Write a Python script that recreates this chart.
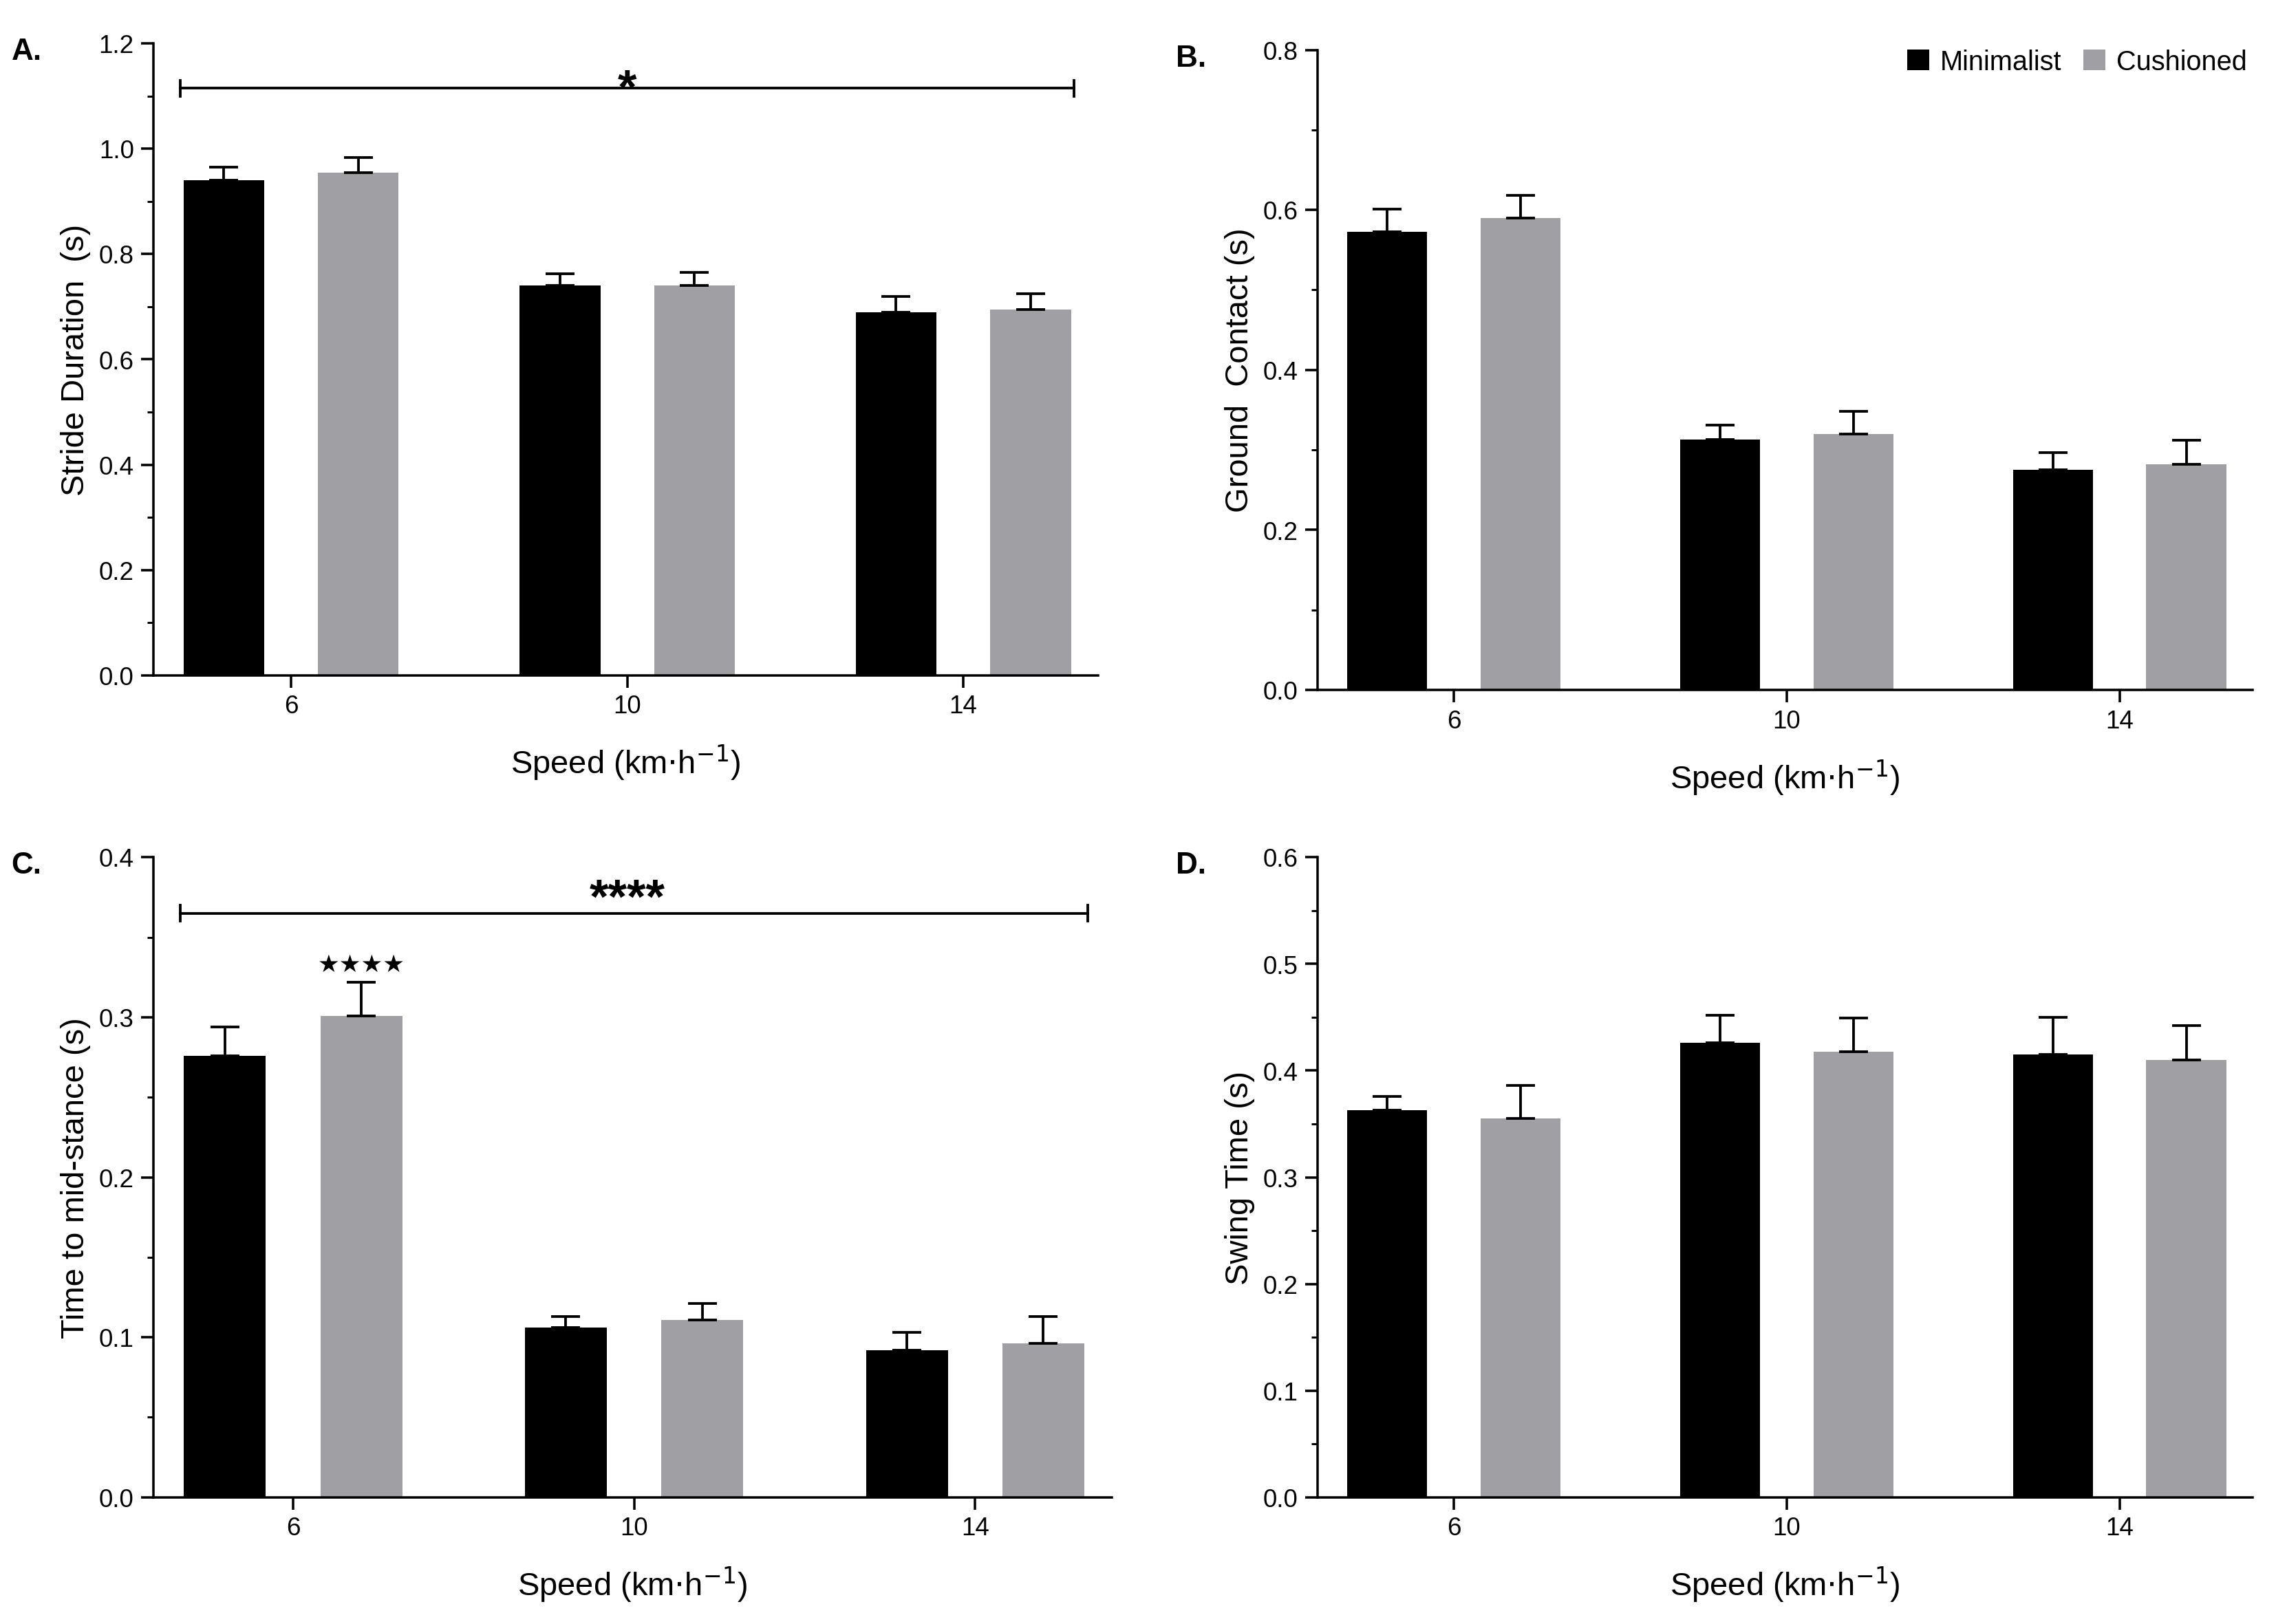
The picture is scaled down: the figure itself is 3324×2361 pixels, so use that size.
import numpy as np, pandas as pd, seaborn as sns, matplotlib
matplotlib.use("Agg")
import matplotlib.pyplot as plt
from matplotlib.ticker import MultipleLocator

speeds = ["6", "10", "14"]
shoes = ["Minimalist", "Cushioned"]
stride_min = [0.940, 0.740, 0.690]; stride_min_err = [0.025, 0.022, 0.030]
stride_cus = [0.955, 0.740, 0.695]; stride_cus_err = [0.028, 0.025, 0.030]
gc_min = [0.573, 0.313, 0.275]; gc_min_err = [0.028, 0.018, 0.022]
gc_cus = [0.590, 0.320, 0.282]; gc_cus_err = [0.028, 0.028, 0.030]
mid_min = [0.276, 0.106, 0.092]; mid_min_err = [0.018, 0.007, 0.011]
mid_cus = [0.301, 0.111, 0.096]; mid_cus_err = [0.021, 0.010, 0.017]
sw_min = [0.363, 0.426, 0.415]; sw_min_err = [0.013, 0.026, 0.035]
sw_cus = [0.355, 0.418, 0.410]; sw_cus_err = [0.031, 0.031, 0.032]

plt.rcParams["font.family"] = "Liberation Sans"
fig = plt.figure(figsize=(15.68, 11.14), dpi=212)
pos = {"A": [0.067, 0.584, 0.413, 0.389], "B": [0.576, 0.575, 0.409, 0.394],
       "C": [0.067, 0.078, 0.419, 0.394], "D": [0.576, 0.078, 0.409, 0.394]}
panels = [("A", stride_min, stride_min_err, stride_cus, stride_cus_err, "Stride Duration  (s)", 1.2, 0.2),
          ("B", gc_min, gc_min_err, gc_cus, gc_cus_err, "Ground  Contact (s)", 0.8, 0.2),
          ("C", mid_min, mid_min_err, mid_cus, mid_cus_err, "Time to mid-stance (s)", 0.4, 0.1),
          ("D", sw_min, sw_min_err, sw_cus, sw_cus_err, "Swing Time (s)", 0.6, 0.1)]
colors = {"Minimalist": "#000000", "Cushioned": "#a0a0a4"}
for name, mn, mne, cu, cue, ylab, ymax, step in panels:
    ax = fig.add_axes(pos[name])
    df = pd.DataFrame({"Speed": speeds * 2, "Shoe": ["Minimalist"] * 3 + ["Cushioned"] * 3,
                       "val": mn + cu})
    sns.barplot(data=df, x="Speed", y="val", hue="Shoe", hue_order=shoes, palette=colors,
                width=0.8, gap=0.4, errorbar=None, ax=ax, legend=(name == "B"), saturation=1)
    x = np.arange(3)
    for off, v, e, c in [(-0.2, mn, mne, "k"), (0.2, cu, cue, "k")]:
        ax.errorbar(x + off, v, yerr=[np.zeros(3), e], fmt="none", ecolor=c, capsize=7, elinewidth=1.3, capthick=1.3)
    ax.set_xlim(-0.41, 2.4)
    ax.set_ylim(0, ymax)
    ax.yaxis.set_major_locator(MultipleLocator(step))
    ax.yaxis.set_minor_locator(MultipleLocator(step / 2))
    ax.yaxis.set_major_formatter(matplotlib.ticker.FormatStrFormatter("%.1f"))
    ax.tick_params(labelsize=12.5, width=1.2, length=6)
    ax.tick_params(which="minor", length=3, width=1)
    for s in ["top", "right"]:
        ax.spines[s].set_visible(False)
    for s in ["left", "bottom"]:
        ax.spines[s].set_linewidth(1.2)
    ax.set_ylabel(ylab, fontsize=16)
    ax.set_xlabel("Speed (km$\\cdot$h$^{-1}$)", fontsize=16, labelpad=12)
    fig.text(pos[name][0] - 0.062, pos[name][1] + pos[name][3] - 0.005, name + ".",
             fontsize=15, fontweight="bold", va="center")
    if name == "B":
        ax.legend(loc="upper right", bbox_to_anchor=(1.02, 1.04), frameon=False, fontsize=13.5,
                  ncol=2, handlelength=0.8, handleheight=0.8, columnspacing=0.8, handletextpad=0.4, title=None)
    if name == "A":
        ax.errorbar([-0.33, 2.33], [1.115, 1.115], fmt="none")
        ax.plot([-0.33, 2.33], [1.115, 1.115], color="k", lw=1.3)
        ax.plot([-0.33, -0.33], [1.10, 1.13], color="k", lw=1.3)
        ax.plot([2.33, 2.33], [1.10, 1.13], color="k", lw=1.3)
        ax.text(1.0, 1.11, "*", ha="center", va="center", fontsize=24, fontweight="bold")
    if name == "C":
        ax.plot([-0.33, 2.33], [0.365, 0.365], color="k", lw=1.3)
        ax.plot([-0.33, -0.33], [0.36, 0.37], color="k", lw=1.3)
        ax.plot([2.33, 2.33], [0.36, 0.37], color="k", lw=1.3)
        ax.text(0.98, 0.373, "****", ha="center", va="center", fontsize=24, fontweight="bold")
        ax.text(0.2, 0.333, "★★★★", ha="center", va="center", fontsize=12, family="DejaVu Sans")
fig.savefig("out.png", dpi=212)
